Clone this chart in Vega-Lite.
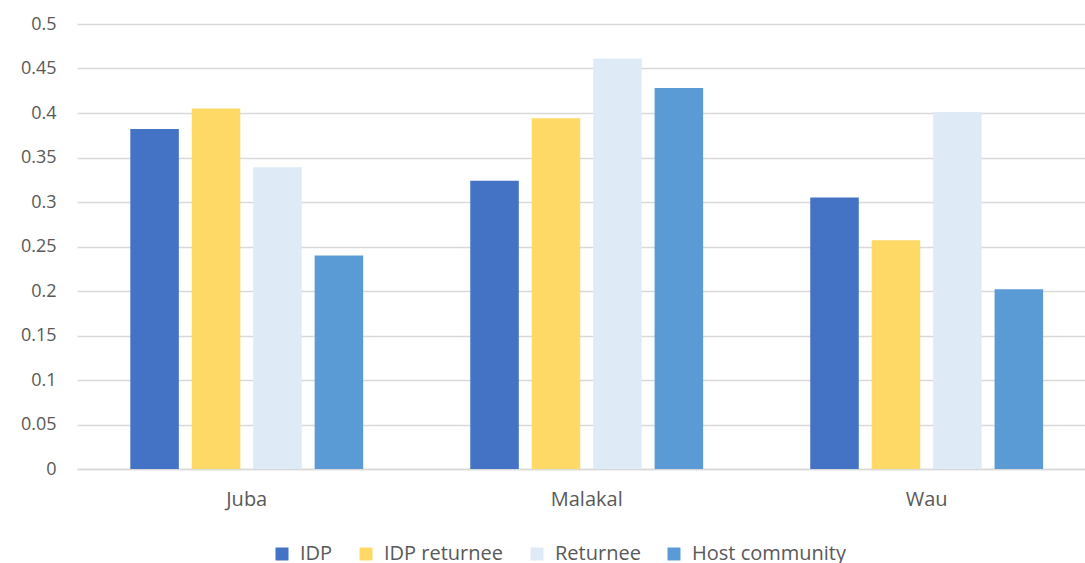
{
  "$schema": "https://vega.github.io/schema/vega-lite/v6.json",
  "width": 1008,
  "height": 445,
  "autosize": {"type": "none"},
  "padding": {"left": 77, "top": 24, "right": 0, "bottom": 94},
  "background": "white",
  "config": {
    "view": {"stroke": null},
    "font": "Open Sans"
  },
  "data": {
    "values": [
      {"city": "Juba", "group": "IDP", "value": 0.382},
      {"city": "Juba", "group": "IDP returnee", "value": 0.405},
      {"city": "Juba", "group": "Returnee", "value": 0.339},
      {"city": "Juba", "group": "Host community", "value": 0.240},
      {"city": "Malakal", "group": "IDP", "value": 0.324},
      {"city": "Malakal", "group": "IDP returnee", "value": 0.394},
      {"city": "Malakal", "group": "Returnee", "value": 0.461},
      {"city": "Malakal", "group": "Host community", "value": 0.428},
      {"city": "Wau", "group": "IDP", "value": 0.305},
      {"city": "Wau", "group": "IDP returnee", "value": 0.257},
      {"city": "Wau", "group": "Returnee", "value": 0.401},
      {"city": "Wau", "group": "Host community", "value": 0.202}
    ]
  },
  "mark": {"type": "bar"},
  "encoding": {
    "x": {
      "field": "city", "type": "nominal", "sort": null, "title": null,
      "scale": {"paddingInner": 0.315, "paddingOuter": 0.14, "align": 0.56},
      "axis": {"labelAngle": 0, "ticks": false, "domain": true, "domainColor": "#d9d9d9", "domainWidth": 1.5, "labelPadding": 20, "labelFontSize": 20, "labelColor": "#595959", "labelFont": "Open Sans"}
    },
    "xOffset": {
      "field": "group", "type": "nominal", "sort": ["IDP", "IDP returnee", "Returnee", "Host community"],
      "scale": {"paddingInner": 0.21, "paddingOuter": 0}
    },
    "y": {
      "field": "value", "type": "quantitative", "title": null,
      "scale": {"domain": [0, 0.5], "nice": false},
      "axis": {"values": [0, 0.05, 0.1, 0.15, 0.2, 0.25, 0.3, 0.35, 0.4, 0.45, 0.5], "format": "~g", "domain": false, "ticks": false, "gridColor": "#d9d9d9", "gridWidth": 1.5, "labelPadding": 21, "labelFontSize": 18, "labelColor": "#595959", "labelFont": "Open Sans"}
    },
    "color": {
      "field": "group", "type": "nominal", "sort": ["IDP", "IDP returnee", "Returnee", "Host community"],
      "scale": {"domain": ["IDP", "IDP returnee", "Returnee", "Host community"], "range": ["#4472C4", "#FFD966", "#DEEBF7", "#5B9BD5"]},
      "legend": {"orient": "none", "legendX": 195, "legendY": 520, "direction": "horizontal", "title": null, "symbolType": "square", "symbolSize": 169, "symbolStrokeWidth": 0, "columnPadding": 23, "labelOffset": 8, "labelFontSize": 20, "labelColor": "#595959", "labelFont": "Open Sans"}
    }
  }
}
